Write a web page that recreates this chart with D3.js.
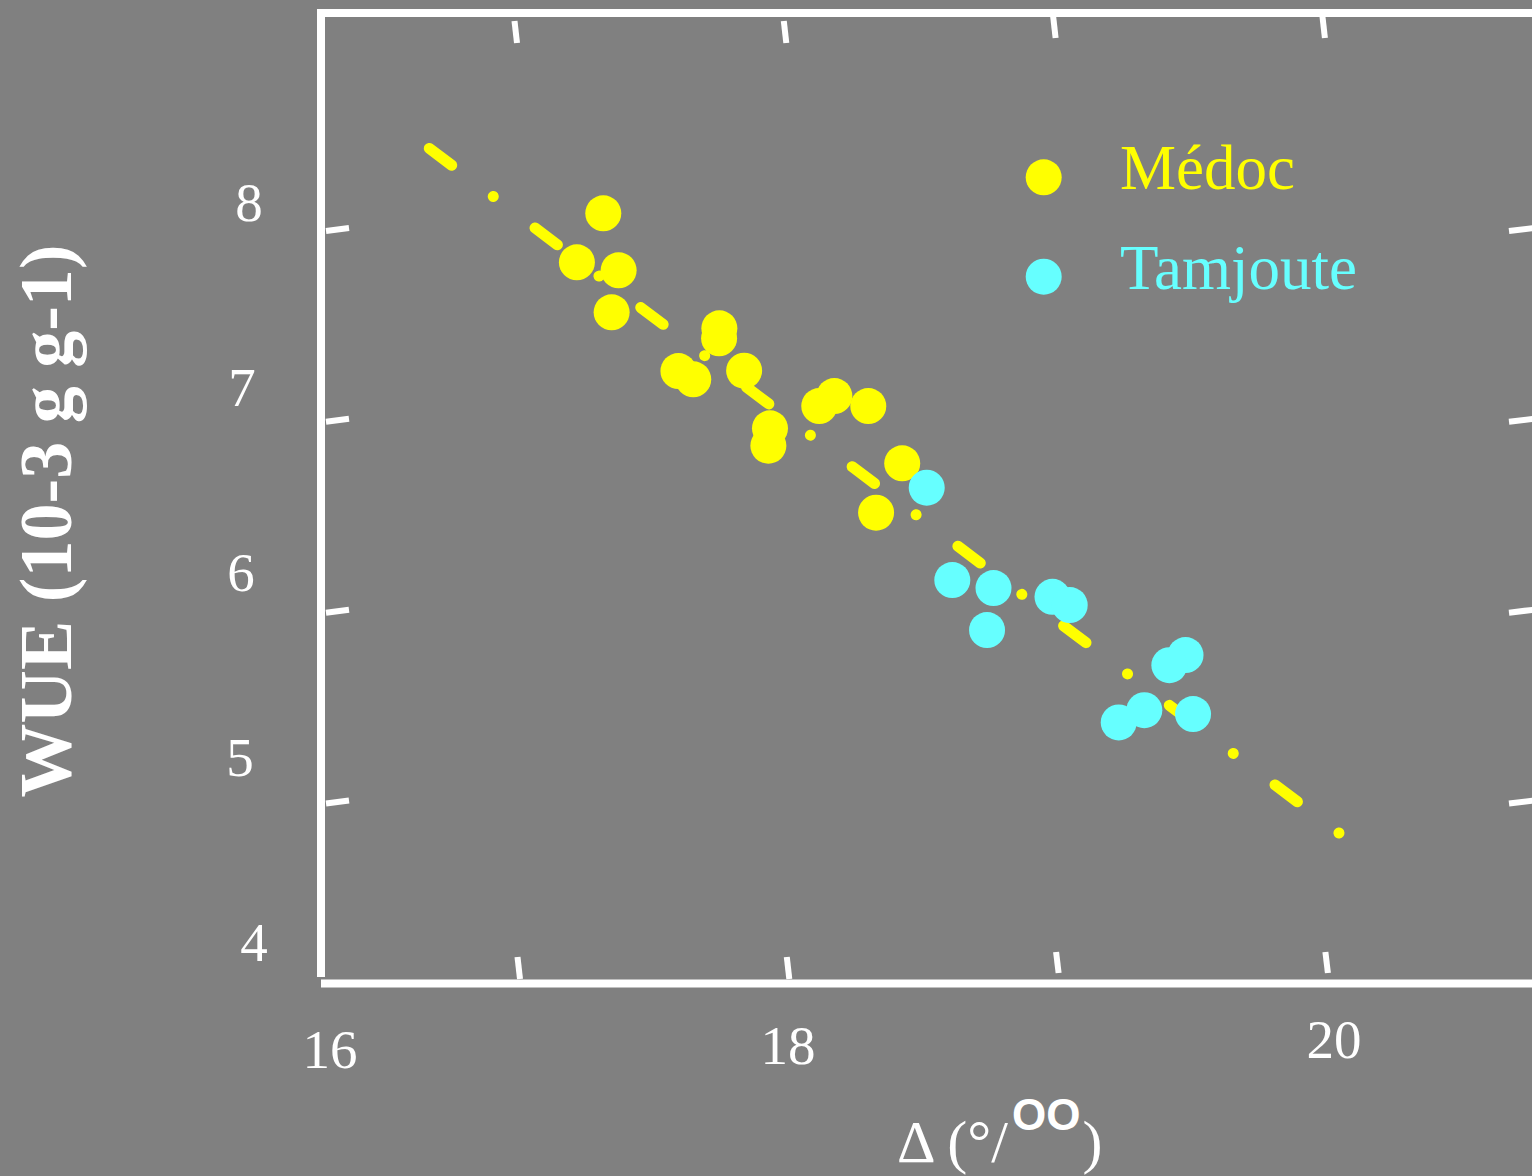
<!DOCTYPE html>
<html>
<head>
<meta charset="utf-8">
<script src="https://cdn.jsdelivr.net/npm/d3@7/dist/d3.min.js"></script>
<style>
  html, body { margin: 0; padding: 0; background: #808080; }
  svg { display: block; }
</style>
</head>
<body>
<svg id="chart" width="1532" height="1176"></svg>
<script>
// ---- data ----
const seriesNames = ["Médoc", "Tamjoute"];
const seriesColors = ["#ffff00", "#66ffff"];

const medocDelta = [17.313, 17.215, 17.370, 17.344, 17.744, 17.743, 17.592, 17.647, 17.836, 17.932, 17.926, 18.115, 18.171, 18.297, 18.423, 18.326];
const medocWUE   = [8.085, 7.828, 7.786, 7.566, 7.482, 7.430, 7.258, 7.215, 7.260, 6.958, 6.867, 7.075, 7.127, 7.075, 6.775, 6.516];

const tamDelta = [18.514, 18.609, 18.762, 18.738, 18.981, 19.045, 19.475, 19.415, 19.322, 19.227, 19.503];
const tamWUE   = [6.647, 6.163, 6.121, 5.901, 6.075, 6.032, 5.770, 5.717, 5.481, 5.417, 5.461];

// regression line WUE = intercept + slope * Delta
const fitSlope = -1.0621;
const fitIntercept = 26.127;
const fitRange = [16.667, 20.046];

const xTicks = [17, 18, 19, 20];
const yTicks = [5, 6, 7, 8];
const xTickLabels = ["16", "18", "20"];
const xTickLabelValues = [16, 18, 20];
const yTickLabels = ["4", "5", "6", "7", "8"];
const yTickLabelValues = [4, 5, 6, 7, 8];

const xTitle = "Δ (°/";
const xTitleSup = "OO";
const xTitleEnd = ")";
const yTitle = "WUE (10-3 g g-1)";

// ---- scales ----
const x = d3.scaleLinear().domain([17, 20]).range([519, 1326.9]);
const y = d3.scaleLinear().domain([5, 8]).range([802, 229.5]);

// hand-placed tick label positions in the original figure
const xLabX = d3.scaleLinear().domain([16, 18, 20]).range([330, 788, 1334]);
const xLabY = d3.scaleLinear().domain([16, 18, 20]).range([1068, 1064, 1058]);
const yLabY = d3.scaleLinear().domain([4, 8]).range([960.5, 220.5]);
const yLabX = d3.scaleLinear().domain([4, 5, 6, 7, 8]).range([254, 240, 241, 242, 249]);

const svg = d3.select("#chart");
svg.append("rect").attr("width", 1532).attr("height", 1176).attr("fill", "#808080");

const white = "#ffffff";
const serif = "'Liberation Serif', 'Times New Roman', serif";

// ---- frame ----
const frame = svg.append("g").attr("stroke", white).attr("stroke-width", 8).attr("fill", "none");
frame.append("line").attr("x1", 317).attr("x2", 1532).attr("y1", 13).attr("y2", 13);
frame.append("line").attr("x1", 321).attr("x2", 321).attr("y1", 13).attr("y2", 977);
frame.append("line").attr("x1", 321).attr("x2", 1532).attr("y1", 983.5).attr("y2", 983.5);

// ---- ticks ----
const tickG = svg.append("g").attr("stroke", white).attr("stroke-width", 6);
tickG.selectAll(".tb").data(xTicks).join("line")
  .attr("x1", d => x(d) - 1.5).attr("x2", d => x(d) + 1)
  .attr("y1", d => d < 19 ? 957 : 952).attr("y2", d => d < 19 ? 979 : 973);
tickG.selectAll(".tt").data(xTicks).join("line")
  .attr("x1", d => x(d) - 4.5).attr("x2", d => x(d) - 2)
  .attr("y1", d => d < 19 ? 21 : 16).attr("y2", d => d < 19 ? 43 : 38);
tickG.selectAll(".tl").data(yTicks).join("line")
  .attr("x1", 326).attr("x2", 349)
  .attr("y1", d => y(d) + 1.5).attr("y2", d => y(d) - 1.5);
tickG.selectAll(".tr").data(yTicks).join("line")
  .attr("x1", 1509).attr("x2", 1534)
  .attr("y1", d => y(d) + 1.5).attr("y2", d => y(d) - 1.5);

// ---- tick labels ----
svg.append("g").selectAll("text").data(xTickLabelValues).join("text")
  .attr("x", d => xLabX(d)).attr("y", d => xLabY(d))
  .attr("text-anchor", "middle").attr("fill", white)
  .attr("font-family", serif).attr("font-size", 55)
  .text((d, i) => xTickLabels[i]);

svg.append("g").selectAll("text").data(yTickLabelValues).join("text")
  .attr("x", d => yLabX(d)).attr("y", d => yLabY(d))
  .attr("text-anchor", "middle").attr("fill", white)
  .attr("font-family", serif).attr("font-size", 55)
  .text((d, i) => yTickLabels[i]);

// ---- axis titles ----
const xt = svg.append("text")
  .attr("x", 897).attr("y", 1162)
  .attr("fill", white).attr("font-family", serif).attr("font-size", 60);
xt.append("tspan").text(xTitle);
xt.append("tspan").attr("dy", -32).attr("dx", 4).attr("font-family", "'Liberation Sans', Arial, sans-serif")
  .attr("font-size", 44).attr("font-weight", "bold").text(xTitleSup);
xt.append("tspan").attr("dy", 32).attr("dx", 2).text(xTitleEnd);

svg.append("text")
  .attr("transform", "translate(71,521) rotate(-90)")
  .attr("text-anchor", "middle").attr("fill", white)
  .attr("font-family", serif).attr("font-size", 74).attr("font-weight", "bold")
  .text(yTitle);

// ---- regression line (dash-dot) ----
const fitPts = fitRange.map(d => [x(d), y(fitIntercept + fitSlope * d)]);
svg.append("path")
  .attr("d", d3.line()(fitPts))
  .attr("fill", "none").attr("stroke", seriesColors[0])
  .attr("stroke-width", 11).attr("stroke-linecap", "round")
  .attr("stroke-dasharray", "28 52 0.01 52.3");

// ---- points ----
const medoc = medocDelta.map((d, i) => ({ x: d, y: medocWUE[i] }));
const tam = tamDelta.map((d, i) => ({ x: d, y: tamWUE[i] }));

svg.append("g").selectAll("circle").data(medoc).join("circle")
  .attr("cx", d => x(d.x)).attr("cy", d => y(d.y)).attr("r", 18)
  .attr("fill", seriesColors[0]);
svg.append("g").selectAll("circle").data(tam).join("circle")
  .attr("cx", d => x(d.x)).attr("cy", d => y(d.y)).attr("r", 18)
  .attr("fill", seriesColors[1]);

// ---- legend ----
const legendY = d3.scalePoint().domain(seriesNames).range([177.3, 276.7]);
const lg = svg.append("g").selectAll("g").data(seriesNames).join("g")
  .attr("transform", d => `translate(0,${legendY(d)})`);
lg.append("circle").attr("cx", 1043.7).attr("cy", 0).attr("r", 18)
  .attr("fill", (d, i) => seriesColors[i]);
lg.append("text").attr("x", 1120).attr("y", 12)
  .attr("fill", (d, i) => seriesColors[i])
  .attr("font-family", serif).attr("font-size", 63)
  .text(d => d);
</script>
</body>
</html>
